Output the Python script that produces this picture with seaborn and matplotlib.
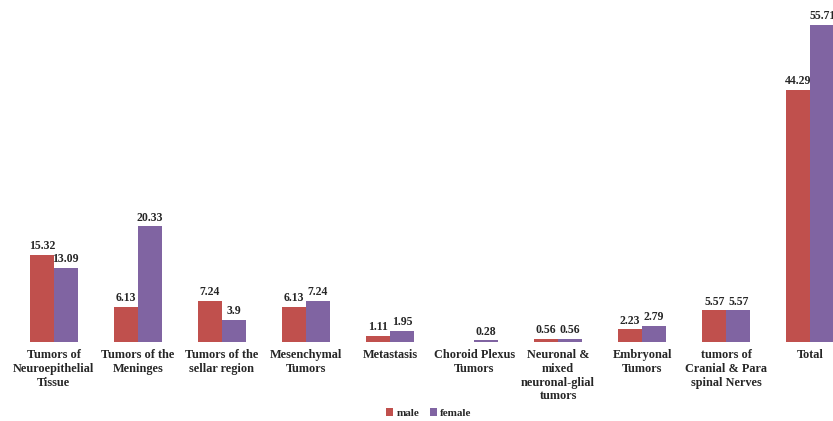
import matplotlib
matplotlib.use("Agg")
import matplotlib.pyplot as plt
import seaborn as sns
import pandas as pd

categories = ["Tumors of\nNeuroepithelial\nTissue", "Tumors of the\nMeninges",
              "Tumors of the\nsellar region", "Mesenchymal\nTumors", "Metastasis",
              "Choroid Plexus\nTumors", "Neuronal &\nmixed\nneuronal-glial\ntumors",
              "Embryonal\nTumors", "tumors of\nCranial & Para\nspinal Nerves", "Total"]
male = [15.32, 6.13, 7.24, 6.13, 1.11, 0, 0.56, 2.23, 5.57, 44.29]
female = [13.09, 20.33, 3.9, 7.24, 1.95, 0.28, 0.56, 2.79, 5.57, 55.71]
male_labels = ["15.32", "6.13", "7.24", "6.13", "1.11", "", "0.56", "2.23", "5.57", "44.29"]
female_labels = ["13.09", "20.33", "3.9", "7.24", "1.95", "0.28", "0.56", "2.79", "5.57", "55.71"]

df = pd.DataFrame({
    "cat": categories * 2,
    "val": male + female,
    "sex": ["male"] * len(categories) + ["female"] * len(categories),
})

sns.set_theme(style="white")
plt.rcParams["font.family"] = ["Liberation Serif", "DejaVu Serif"]
plt.rcParams["font.weight"] = "bold"

fig = plt.figure(figsize=(8.33, 4.21), dpi=100)
ax = fig.add_axes([0.0, 0.1876, 1.0, 0.8124])
sns.barplot(data=df, x="cat", y="val", hue="sex", order=categories,
            hue_order=["male", "female"], palette=["#c0504d", "#8064a2"],
            width=0.57, ax=ax, legend=True, saturation=1, linewidth=0)

for cont, labs in zip(ax.containers, [male_labels, female_labels]):
    ax.bar_label(cont, labels=labs, fontsize=8.5, fontweight="bold", padding=2)

ax.set_xlim(-0.64, 9.27)
ax.set_ylim(0, 60.1)
ax.set_xlabel("")
ax.set_ylabel("")
ax.set_yticks([])
for s in ax.spines.values():
    s.set_visible(False)
ax.tick_params(axis="x", length=0, pad=5, labelsize=8.8)
for t in ax.get_xticklabels():
    t.set_fontweight("bold")
    t.set_verticalalignment("top")

ax.legend(loc="upper center", bbox_to_anchor=(0.515, -0.165), ncol=2, frameon=False,
          fontsize=8, handlelength=0.6, handleheight=0.6, handletextpad=0.3,
          columnspacing=1.0)

fig.savefig("out.png", dpi=100)
